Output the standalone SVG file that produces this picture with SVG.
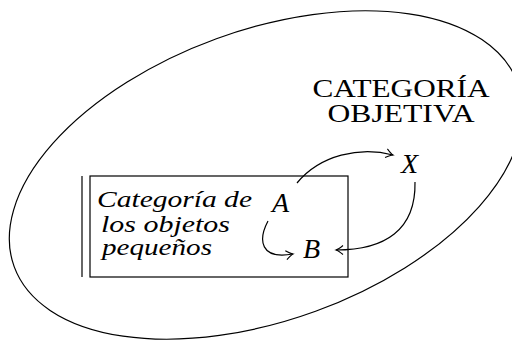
<svg xmlns="http://www.w3.org/2000/svg" width="512" height="340" viewBox="0 0 512 340">
<style>
.ln{fill:none;stroke:#000;stroke-width:1.2}
.it{font-family:"Liberation Serif","Times New Roman",serif;font-style:italic;fill:#000}
.rm{font-family:"Liberation Serif","Times New Roman",serif;fill:#000}
</style>
<defs>
<marker id="to" viewBox="-8 -5 10 10" refX="0" refY="0" markerWidth="10" markerHeight="10" markerUnits="userSpaceOnUse" orient="auto">
<path d="M-7,-4.5 Q-2.5,-0.8 0,0 Q-2.5,0.8 -7,4.5" fill="none" stroke="#000" stroke-width="1.1"/>
</marker>
</defs>
<rect width="512" height="340" fill="#fff"/>
<g id="objetiva">
<ellipse class="ln" cx="266" cy="175" rx="268" ry="145" transform="rotate(-20 266 175)"/>
<text class="rm" font-size="26" text-anchor="middle" x="401" y="97" textLength="177" lengthAdjust="spacingAndGlyphs">CATEGORÍA</text>
<text class="rm" font-size="26" text-anchor="middle" x="401" y="122" textLength="147" lengthAdjust="spacingAndGlyphs">OBJETIVA</text>
</g>
<g id="pequenos">
<rect class="ln" x="90" y="176" width="258" height="101"/>
<line class="ln" x1="82" y1="176" x2="82" y2="277"/>
<text class="it" font-size="24" x="97" y="207" textLength="155" lengthAdjust="spacingAndGlyphs">Categoría de</text>
<text class="it" font-size="24" x="101" y="232" textLength="129" lengthAdjust="spacingAndGlyphs">los objetos</text>
<text class="it" font-size="24" x="102" y="255" textLength="110" lengthAdjust="spacingAndGlyphs">pequeños</text>
</g>
<g id="A"><text class="it" font-size="28" x="272" y="212">A</text></g>
<g id="B"><text class="it" font-size="28" x="303" y="258">B</text></g>
<g id="X"><text class="it" font-size="28" x="401" y="173">X</text></g>
<g id="connectors">
<path class="ln" d="M297,183 C320,155 360,146 393,155" marker-end="url(#to)"/>
<path class="ln" d="M415,182 C416,230 385,250 336,250" marker-end="url(#to)"/>
<path class="ln" d="M268,221 C258,240 260,260 293,254" marker-end="url(#to)"/>
</g>
</svg>
